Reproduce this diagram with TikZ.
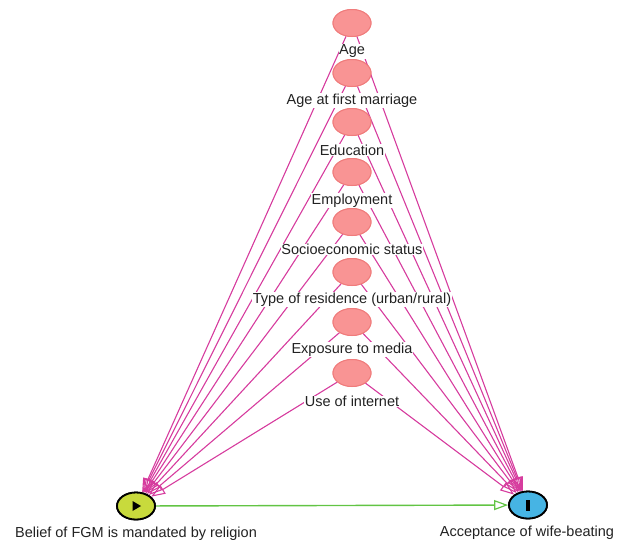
\documentclass[tikz,border=0pt]{standalone}
\usepackage{fontspec}
\setmainfont{Liberation Sans}
\usetikzlibrary{arrows.meta,shapes.geometric,calc}
\definecolor{edgec}{HTML}{D63C9E}
\definecolor{greenc}{HTML}{62C444}
\definecolor{covfill}{HTML}{F99494}
\definecolor{covdraw}{HTML}{F07C7C}
\definecolor{expfill}{HTML}{C8DA3C}
\definecolor{outfill}{HTML}{46B4E4}
\definecolor{txt}{HTML}{222222}
\begin{document}
\begin{tikzpicture}[x=1pt,y=-1pt,
  cov/.style={ellipse, draw=covdraw, fill=covfill, line width=1pt, minimum width=38pt, minimum height=27pt, inner sep=0pt},
  mainnode/.style={ellipse, draw=black, line width=1.8pt, minimum width=38pt, minimum height=27pt, inner sep=0pt},
  lab/.style={font=\fontsize{14.5}{17}\selectfont, text=txt, inner sep=0.6pt, fill=white},
  edge/.style={draw=edgec, line width=1.1pt, -{Triangle[open, length=14pt, width=10pt, line width=1.1pt]}},
  gedge/.style={draw=greenc, line width=1.4pt, -{Triangle[open, length=14pt, width=10pt, line width=1.2pt]}}]
\useasboundingbox (0,0) rectangle (624,542);
% main nodes
\node[mainnode, fill=expfill] (exp) at (136,506) {};
\node[mainnode, fill=outfill] (out) at (528,505) {};
% covariates
\node[cov] (c1) at (352,23) {};
\node[cov] (c2) at (352,73) {};
\node[cov] (c3) at (352,122) {};
\node[cov] (c4) at (352,172) {};
\node[cov] (c5) at (352,222) {};
\node[cov] (c6) at (352,272) {};
\node[cov] (c7) at (352,322) {};
\node[cov] (c8) at (352,373) {};
% edges
\foreach \c in {c1,c2,c3,c4,c5,c6,c7,c8}{
  \draw[edge] (\c) -- (exp);
  \draw[edge] (\c) -- (out);
}
\draw[gedge] (exp) -- (out);
% redraw nodes on top
\node[cov] at (c1) {};
\node[cov] at (c2) {};
\node[cov] at (c3) {};
\node[cov] at (c4) {};
\node[cov] at (c5) {};
\node[cov] at (c6) {};
\node[cov] at (c7) {};
\node[cov] at (c8) {};
\node[mainnode, fill=expfill] at (exp) {};
\node[mainnode, fill=outfill] at (out) {};
\fill[black] ($(exp)+(-3.5,-5)$) -- ($(exp)+(5,0)$) -- ($(exp)+(-3.5,5)$) -- cycle;
\fill[black] ($(out)+(-1.6,-5.5)$) rectangle ($(out)+(1.6,5.5)$);
% labels
\node[lab] (l1) at (352,51.5) {Age};
\node[lab] (l2) at (352,100.5) {Age at first marriage};
\node[lab] (l3) at (352,150) {Education};
\node[lab] (l4) at (352,200.5) {Employment};
\node[lab] (l5) at (352,249.5) {Socioeconomic status};
\node[lab] (l6) at (352,299.5) {Type of residence (urban/rural)};
\node[lab] (l7) at (352,349.5) {Exposure to media};
\node[lab] (l8) at (352,401.5) {Use of internet};
\node[lab] (le) at (136,534) {Belief of FGM is mandated by religion};
\node[lab] (lo) at (527,532.5) {Acceptance of wife-beating};
\end{tikzpicture}
\end{document}
